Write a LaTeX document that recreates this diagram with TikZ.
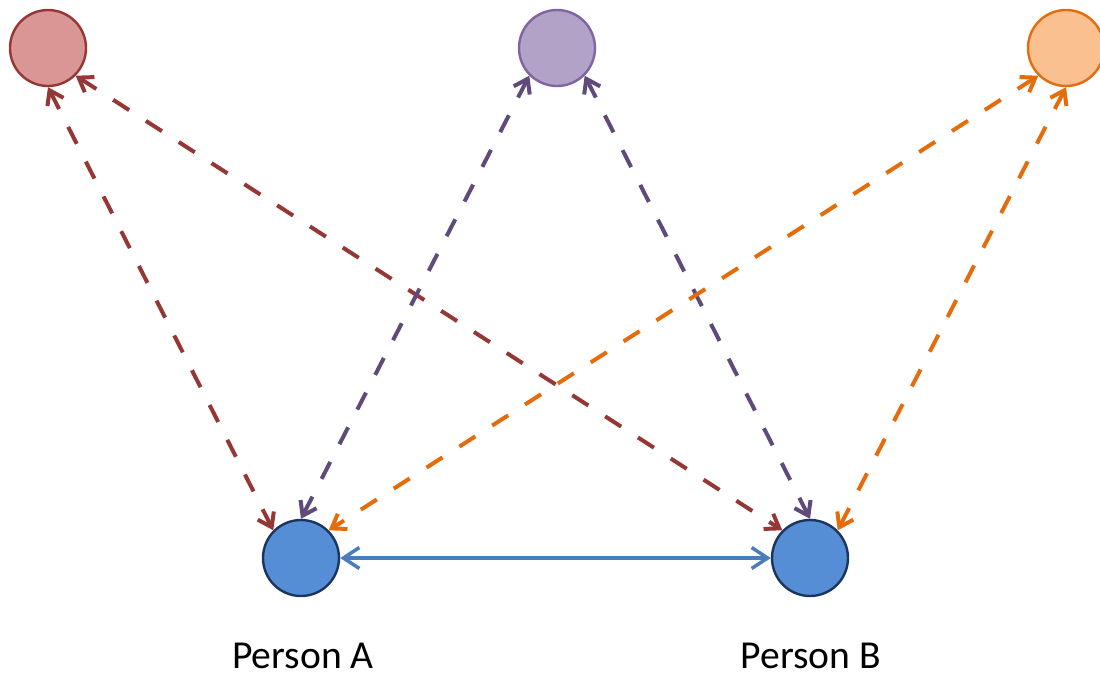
\documentclass[tikz,border=0pt]{standalone}
\usepackage{fontspec}
\setmainfont{Carlito}
\usetikzlibrary{arrows.meta}
\definecolor{redfill}{HTML}{D99694}
\definecolor{redline}{HTML}{953735}
\definecolor{purfill}{HTML}{B3A2C7}
\definecolor{purline}{HTML}{8064A2}
\definecolor{purarrow}{HTML}{604A7B}
\definecolor{orgfill}{HTML}{FAC090}
\definecolor{orgline}{HTML}{E46C0A}
\definecolor{bluefill}{HTML}{558ED5}
\definecolor{blueline}{HTML}{1C355E}
\definecolor{bluelink}{HTML}{4A7EBB}
\tikzset{
  ball/.style={circle, minimum size=38pt, inner sep=0pt, line width=1.2pt},
  influence/.style={line width=2pt, dash pattern=on 9.5pt off 10pt,
    {Straight Barb[length=6.5pt,width=9pt]}-{Straight Barb[length=6.5pt,width=9pt]}},
  link/.style={line width=1.75pt, draw=bluelink,
    {Straight Barb[length=8pt,width=10.5pt]}-{Straight Barb[length=8pt,width=10.5pt]}},
  label/.style={anchor=base, font=\fontsize{19.8}{24}\selectfont, text=black}
}
\begin{document}
\begin{tikzpicture}[x=0.5pt,y=-0.5pt]
  \useasboundingbox (0,0) rectangle (1100,675);
  % three outside parties
  \node[ball, fill=redfill, draw=redline] (r) at (48,48) {};
  \node[ball, fill=purfill, draw=purline] (p) at (557,48) {};
  \node[ball, fill=orgfill, draw=orgline] (o) at (1066,48) {};
  % the two people
  \node[ball, fill=bluefill, draw=blueline] (a) at (301,558) {};
  \node[ball, fill=bluefill, draw=blueline] (b) at (810,558) {};
  \node[label] (la) at (303,668) {Person A};
  \node[label] (lb) at (811,668) {Person B};
  % dashed influences
  \draw[influence, draw=redline] (r.south) -- (a.north west);
  \draw[influence, draw=redline] (r.south east) -- (b.north west);
  \draw[influence, draw=purarrow] (p.south west) -- (a.north);
  \draw[influence, draw=purarrow] (p.south east) -- (b.north);
  \draw[influence, draw=orgline] (o.south west) -- (a.north east);
  \draw[influence, draw=orgline] (o.south) -- (b.north east);
  % direct relationship
  \draw[link] (a.east) -- (b.west);
\end{tikzpicture}
\end{document}
